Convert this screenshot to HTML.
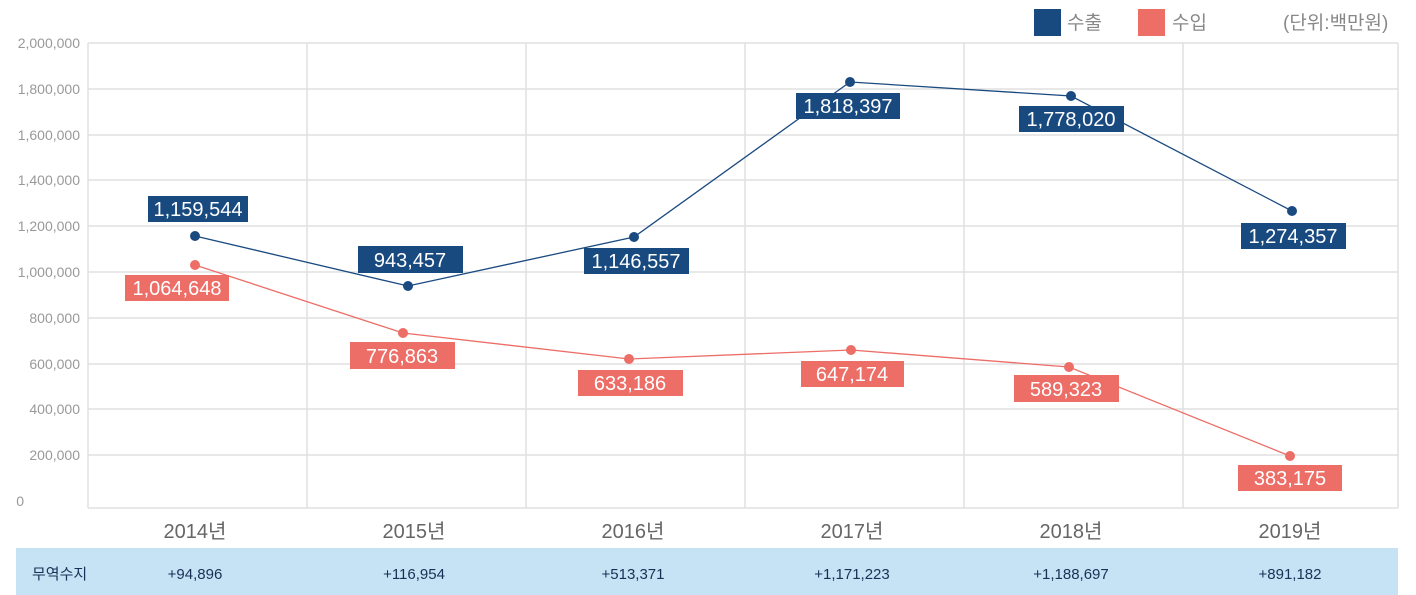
<!DOCTYPE html>
<html><head><meta charset="utf-8"><style>
body{margin:0;width:1416px;height:595px;background:#fff;overflow:hidden;font-family:"Liberation Sans","Noto Sans CJK KR",sans-serif;}
</style></head><body>
<svg width="1416" height="595" xmlns="http://www.w3.org/2000/svg" style="position:absolute;left:0;top:0;font-family:'Liberation Sans','Noto Sans CJK KR',sans-serif">
<g stroke="#e0e0e0" stroke-width="1.5">
<line x1="88" y1="43" x2="1398" y2="43"/><line x1="88" y1="89" x2="1398" y2="89"/><line x1="88" y1="135" x2="1398" y2="135"/><line x1="88" y1="180" x2="1398" y2="180"/><line x1="88" y1="226" x2="1398" y2="226"/><line x1="88" y1="272" x2="1398" y2="272"/><line x1="88" y1="318" x2="1398" y2="318"/><line x1="88" y1="364" x2="1398" y2="364"/><line x1="88" y1="409" x2="1398" y2="409"/><line x1="88" y1="455" x2="1398" y2="455"/><line x1="88" y1="508" x2="1398" y2="508"/>
<line x1="88" y1="43" x2="88" y2="508"/><line x1="307" y1="43" x2="307" y2="508"/><line x1="526" y1="43" x2="526" y2="508"/><line x1="745" y1="43" x2="745" y2="508"/><line x1="964" y1="43" x2="964" y2="508"/><line x1="1183" y1="43" x2="1183" y2="508"/><line x1="1398" y1="43" x2="1398" y2="508"/>
</g>
<g fill="#999" font-size="14" text-anchor="end">
<text x="80" y="48">2,000,000</text><text x="80" y="94">1,800,000</text><text x="80" y="140">1,600,000</text><text x="80" y="185">1,400,000</text><text x="80" y="231">1,200,000</text><text x="80" y="277">1,000,000</text><text x="80" y="323">800,000</text><text x="80" y="369">600,000</text><text x="80" y="414">400,000</text><text x="80" y="460">200,000</text>
<text x="24" y="506">0</text>
</g>
<polyline fill="none" stroke="#ed6d67" stroke-width="1.3" points="195,265 403,333 629,359 851,350 1069,367 1290,456"/>
<polyline fill="none" stroke="#1a4a80" stroke-width="1.3" points="195,236 408,286 634,237 850,82 1071,96 1292,211"/>
<g fill="#ed6d67"><circle cx="195" cy="265" r="5"/><circle cx="403" cy="333" r="5"/><circle cx="629" cy="359" r="5"/><circle cx="851" cy="350" r="5"/><circle cx="1069" cy="367" r="5"/><circle cx="1290" cy="456" r="5"/></g>
<g fill="#1a4a80"><circle cx="195" cy="236" r="5"/><circle cx="408" cy="286" r="5"/><circle cx="634" cy="237" r="5"/><circle cx="850" cy="82" r="5"/><circle cx="1071" cy="96" r="5"/><circle cx="1292" cy="211" r="5"/></g>
<g fill="#184a80">
<rect x="148" y="196" width="100" height="26"/><rect x="358" y="246" width="105" height="27"/><rect x="584" y="248" width="105" height="26"/><rect x="796" y="93" width="104" height="26"/><rect x="1019" y="106" width="105" height="26"/><rect x="1241" y="223" width="105" height="26"/>
</g>
<g fill="#ed6d67">
<rect x="125" y="275" width="104" height="26"/><rect x="350" y="342" width="105" height="27"/><rect x="578" y="370" width="105" height="26"/><rect x="801" y="361" width="103" height="26"/><rect x="1014" y="375" width="105" height="27"/><rect x="1238" y="465" width="104" height="26"/>
</g>
<g fill="#fff" font-size="20" text-anchor="middle">
<text x="198" y="216">1,159,544</text><text x="410" y="267">943,457</text><text x="636" y="268">1,146,557</text><text x="848" y="113">1,818,397</text><text x="1071" y="126">1,778,020</text><text x="1293" y="243">1,274,357</text>
<text x="177" y="295">1,064,648</text><text x="402" y="363">776,863</text><text x="630" y="390">633,186</text><text x="852" y="381">647,174</text><text x="1066" y="396">589,323</text><text x="1290" y="485">383,175</text>
</g>
<g fill="#666" font-size="20" text-anchor="middle">
<text x="195" y="538">2014년</text><text x="414" y="538">2015년</text><text x="633" y="538">2016년</text><text x="852" y="538">2017년</text><text x="1071" y="538">2018년</text><text x="1290" y="538">2019년</text>
</g>
<rect x="1034" y="9" width="27" height="27" fill="#184a80"/>
<rect x="1138" y="9" width="27" height="27" fill="#ed6d67"/>
<g fill="#888" font-size="19">
<text x="1067" y="29">수출</text><text x="1172" y="29">수입</text><text x="1283" y="29">(단위:백만원)</text>
</g>
<rect x="16" y="548" width="1382" height="47" fill="#c5e3f5"/>
<g fill="#1a2f55" font-size="15">
<text x="32" y="579">무역수지</text>
<g text-anchor="middle"><text x="195" y="579">+94,896</text><text x="414" y="579">+116,954</text><text x="633" y="579">+513,371</text><text x="852" y="579">+1,171,223</text><text x="1071" y="579">+1,188,697</text><text x="1290" y="579">+891,182</text></g>
</g>
</svg>
</body></html>
